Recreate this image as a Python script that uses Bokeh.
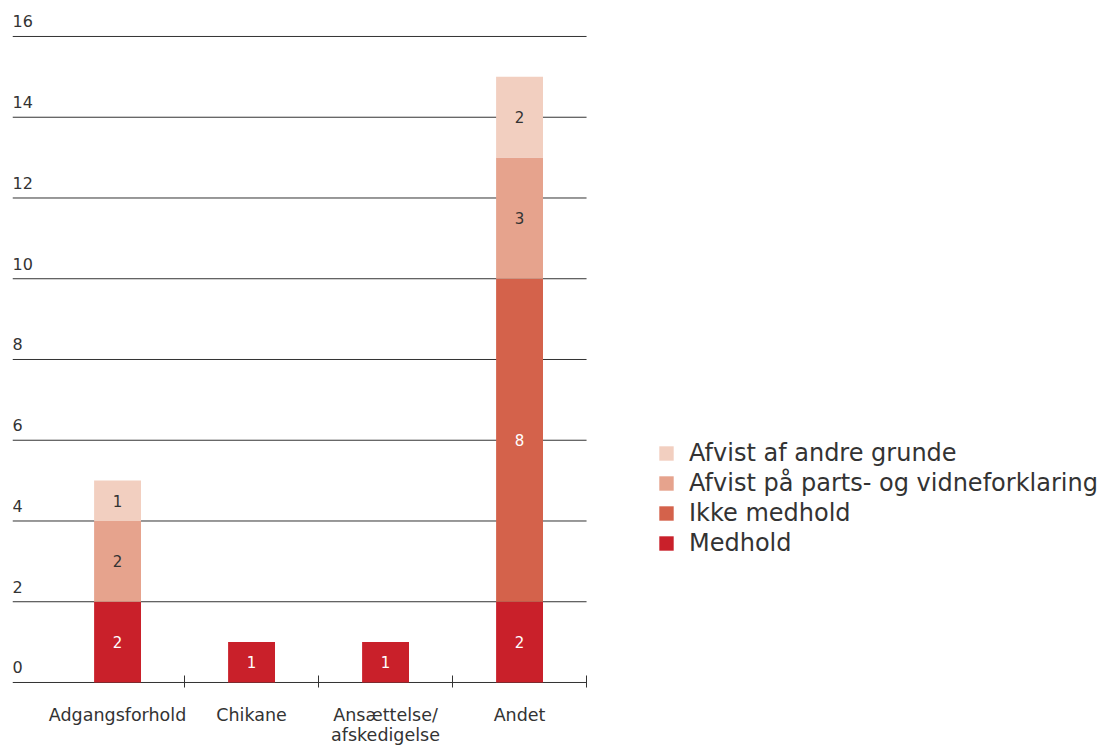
from bokeh.plotting import figure
from bokeh.models import Range1d, FixedTicker, Legend, LegendItem, ColumnDataSource
from bokeh.core.properties import value
from bokeh.embed import file_html
from bokeh.resources import INLINE

# Data
categories = ["Adgangsforhold", "Chikane", "Ansættelse/\nafskedigelse", "Andet"]
series_names = ["Medhold", "Ikke medhold", "Afvist på parts- og vidneforklaring", "Afvist af andre grunde"]
medhold = [2, 1, 1, 2]
ikke_medhold = [0, 0, 0, 8]
afvist_parts = [2, 0, 0, 3]
afvist_andre = [1, 0, 0, 2]
y_ticks = [0, 2, 4, 6, 8, 10, 12, 14, 16]

colors = ["#c9202a", "#d4624b", "#e6a38d", "#f2cfc0"]
label_colors = ["#ffffff", "#ffffff", "#333333", "#333333"]
FONT = "DejaVu Sans"
DARK = "#333333"

series = [medhold, ikke_medhold, afvist_parts, afvist_andre]
keys = ["s0", "s1", "s2", "s3"]
ncat = len(categories)
xpos = [i + 0.5 for i in range(ncat)]

data = {"x": xpos}
for k, s in zip(keys, series):
    data[k] = s
source = ColumnDataSource(data)

# The chart occupies x in [x_start, ncat]; the space to the right holds the legend.
# The frame runs to the bottom edge so the category names below zero stay visible.
x_start = -0.284
x_end = 7.925
p = figure(width=1112, height=747, output_backend="svg", toolbar_location=None,
           x_range=Range1d(x_start, x_end), y_range=Range1d(-1.61, 16.594),
           min_border_left=12, min_border_right=0, min_border_top=12, min_border_bottom=0)
p.outline_line_color = None
p.background_fill_color = "white"
p.xgrid.visible = False
p.ygrid.visible = False
p.yaxis.visible = False

# Horizontal rules across the chart area only
p.segment(x0=[x_start] * len(y_ticks), x1=[ncat] * len(y_ticks), y0=y_ticks, y1=y_ticks,
          line_color=DARK, line_width=1)

# Category axis pinned at zero: names at the centres, tick marks between categories
ax = p.xaxis[0]
ax.fixed_location = 0
ax.ticker = FixedTicker(ticks=xpos, minor_ticks=[i + 1 for i in range(ncat)])
ax.major_label_overrides = {x: c for x, c in zip(xpos, categories)}
ax.major_tick_in = 0
ax.major_tick_out = 0
ax.minor_tick_in = 7
ax.minor_tick_out = 5
ax.minor_tick_line_color = DARK
ax.axis_line_color = None
ax.major_label_standoff = 18
ax.major_label_text_font = FONT
ax.major_label_text_font_size = "17.5px"
ax.major_label_text_line_height = 1.0
ax.major_label_text_color = DARK

# Stacked bars
renderers = p.vbar_stack(keys, x="x", width=0.35, source=source, color=colors, line_color=None)

# Segment value labels
lx, ly, lt, lc = [], [], [], []
for i in range(ncat):
    base = 0
    for s, col in zip(series, label_colors):
        v = s[i]
        if v > 0:
            lx.append(xpos[i])
            ly.append(base + v / 2)
            lt.append(str(v))
            lc.append(col)
        base += v
p.text(x=lx, y=ly, text=lt, text_color=lc, text_font=value(FONT), text_font_size="15px",
       text_align="center", text_baseline="middle")

# Y tick labels sitting above the rules at the left edge
p.text(x=[x_start] * len(y_ticks), y=y_ticks, text=[str(t) for t in y_ticks],
       text_color=DARK, text_font=value(FONT), text_font_size="16px",
       text_align="left", text_baseline="bottom", y_offset=-9)

# Legend, top item first
items = [LegendItem(label=n, renderers=[r]) for n, r in zip(series_names, renderers)][::-1]
legend = Legend(items=items, location=(645, 190), orientation="vertical")
legend.margin = 0
legend.padding = 0
legend.border_line_color = None
legend.background_fill_alpha = 0
legend.glyph_width = 18
legend.glyph_height = 18
legend.label_standoff = 14
legend.spacing = 2
legend.label_text_font = FONT
legend.label_text_font_size = "24px"
legend.label_text_color = DARK
p.add_layout(legend)

open("out.html", "w").write(file_html(p, INLINE))
